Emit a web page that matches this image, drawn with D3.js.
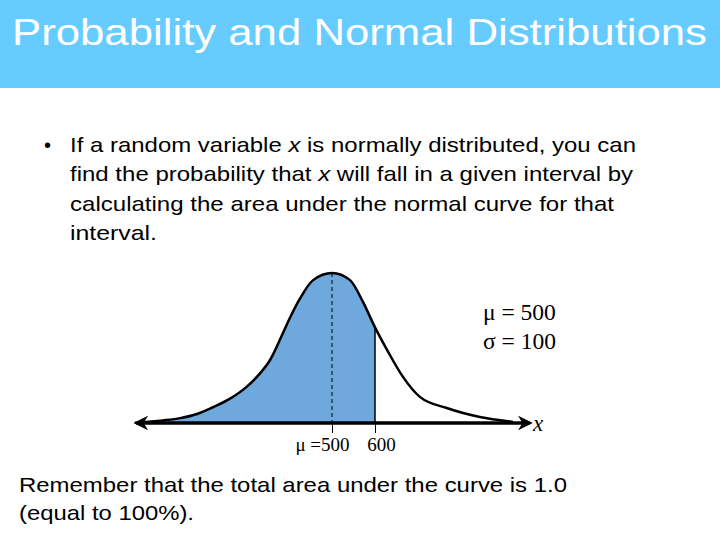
<!DOCTYPE html>
<html>
<head>
<meta charset="utf-8">
<script src="https://cdn.jsdelivr.net/npm/d3@7"></script>
<style>
  html, body { margin: 0; padding: 0; background: #fff; }
  svg { display: block; }
</style>
</head>
<body>
<svg id="chart" width="720" height="540"></svg>
<script>
// ---- Data ----
const titleText = "Probability and Normal Distributions";
const bulletLines = [
  [{t: "If a random variable "}, {t: "x", i: true}, {t: " is normally distributed, you can"}],
  [{t: "find the probability that "}, {t: "x", i: true}, {t: " will fall in a given interval by"}],
  [{t: "calculating the area under the normal curve for that"}],
  [{t: "interval."}]
];
const footerLines = [
  "Remember that the total area under the curve is 1.0",
  "(equal to 100%)."
];
// curve x values (units) and heights (density-like, peak ~0.4)
const curveX = [42, 107, 147, 186, 223, 263, 302, 333, 356, 386, 402, 426, 456, 500, 542, 572, 600, 628, 665, 705, 767, 844, 921];
const curveY = [0.001, 0.007, 0.013, 0.024, 0.042, 0.065, 0.097, 0.133, 0.168, 0.24, 0.28, 0.333, 0.381, 0.4, 0.381, 0.323, 0.255, 0.195, 0.123, 0.069, 0.04, 0.016, 0.003];
const meanValue = 500;
const shadeTo = 600;
const tickValues = [500, 600];
const tickLabels = ["\u03bc =500", "600"];
const paramLabels = ["\u03bc = 500", "\u03c3 = 100"];

// ---- Drawing ----
const svg = d3.select("#chart");

// header band
svg.append("rect").attr("x", 0).attr("y", 0).attr("width", 720).attr("height", 88).attr("fill", "#66CCFF");
svg.append("text").attr("x", 12).attr("y", 45)
  .attr("font-family", "Liberation Sans, Arial, sans-serif").attr("font-size", 36)
  .attr("fill", "#ffffff")
  .attr("textLength", 695).attr("lengthAdjust", "spacingAndGlyphs")
  .text(titleText);

// bullet text
const sans = "Liberation Sans, Arial, sans-serif";
svg.append("text").attr("x", 44).attr("y", 152).attr("font-family", sans).attr("font-size", 20).attr("fill", "#000").text("\u2022");
const bulletWidths = [566, 563, 544, 87];
bulletLines.forEach((parts, li) => {
  const t = svg.append("text").attr("x", 70).attr("y", 152 + li * 29.3)
    .attr("font-family", sans).attr("font-size", 21).attr("fill", "#000");
  parts.forEach(p => {
    const ts = t.append("tspan").text(p.t);
    if (p.i) ts.attr("font-style", "italic");
  });
  t.attr("textLength", bulletWidths[li]).attr("lengthAdjust", "spacingAndGlyphs");
});

// footer text
const footerWidths = [548, 175];
footerLines.forEach((s, i) => {
  svg.append("text").attr("x", 19).attr("y", 492 + i * 28)
    .attr("font-family", sans).attr("font-size", 21).attr("fill", "#000")
    .attr("textLength", footerWidths[i]).attr("lengthAdjust", "spacingAndGlyphs")
    .text(s);
});

// scales
const x = d3.scaleLinear().domain([0, 1000]).range([117, 547]);
const y = d3.scaleLinear().domain([0, 0.4]).range([423, 273]);

const pts = curveX.map((v, i) => ({x: v, y: curveY[i]}));
const shadePts = pts.filter(d => d.x <= shadeTo);

const area = d3.area().x(d => x(d.x)).y0(y(0)).y1(d => y(d.y)).curve(d3.curveMonotoneX);
const line = d3.line().x(d => x(d.x)).y(d => y(d.y)).curve(d3.curveMonotoneX);

svg.append("path").datum(shadePts).attr("d", area).attr("fill", "#6FA8DC");

// dashed mean line
const peakY = y(d3.max(curveY));
svg.append("line")
  .attr("x1", x(meanValue)).attr("x2", x(meanValue))
  .attr("y1", peakY).attr("y2", y(0))
  .attr("stroke", "#000").attr("stroke-width", 1).attr("stroke-dasharray", "4,3");

// boundary at 600
const yAt600 = curveY[curveX.indexOf(shadeTo)];
svg.append("line")
  .attr("x1", x(shadeTo)).attr("x2", x(shadeTo))
  .attr("y1", y(yAt600)).attr("y2", y(0))
  .attr("stroke", "#000").attr("stroke-width", 1.5);

// curve
svg.append("path").datum(pts).attr("d", line)
  .attr("fill", "none").attr("stroke", "#000").attr("stroke-width", 2.5);

// axis with arrows
const defs = svg.append("defs");
["start", "end"].forEach(k => {
  defs.append("marker").attr("id", "arr-" + k)
    .attr("viewBox", "0 0 10 10").attr("refX", 8).attr("refY", 5)
    .attr("markerWidth", 4.2).attr("markerHeight", 4.2)
    .attr("markerUnits", "strokeWidth")
    .attr("orient", k === "start" ? "auto-start-reverse" : "auto")
    .append("path").attr("d", "M0,0 L10,5 L0,10 L3,5 Z").attr("fill", "#000");
});
svg.append("line")
  .attr("x1", x(45)).attr("x2", x(960))
  .attr("y1", y(0)).attr("y2", y(0))
  .attr("stroke", "#000").attr("stroke-width", 3.5)
  .attr("marker-start", "url(#arr-start)").attr("marker-end", "url(#arr-end)");

// ticks below axis
const axis = d3.axisBottom(x).tickValues(tickValues).tickSize(10).tickFormat((d, i) => tickLabels[i]);
const gAxis = svg.append("g").attr("transform", `translate(0,${y(0)})`).call(axis);
gAxis.attr("font-size", 19).attr("font-family", "Liberation Serif, Times New Roman, serif");
gAxis.select(".domain").remove();
gAxis.selectAll(".tick line").attr("stroke", "#000").attr("stroke-width", 1);
gAxis.selectAll(".tick text")
  .style("font-size", "19px")
  .style("font-family", "Liberation Serif, Times New Roman, serif")
  .attr("fill", "#000").attr("y", 15).attr("dy", "0.71em")
  .attr("dx", (d, i) => i === 0 ? "-10" : "6");

// x label
svg.append("text").attr("x", 533).attr("y", 431)
  .attr("font-family", "Liberation Serif, Times New Roman, serif")
  .attr("font-style", "italic").attr("font-size", 23).attr("fill", "#000")
  .text("x");

// parameter labels
paramLabels.forEach((s, i) => {
  svg.append("text").attr("x", 483).attr("y", 320 + i * 29)
    .attr("font-family", "Liberation Serif, Times New Roman, serif")
    .attr("font-size", 23.5).attr("fill", "#000")
    .text(s);
});
</script>
</body>
</html>
